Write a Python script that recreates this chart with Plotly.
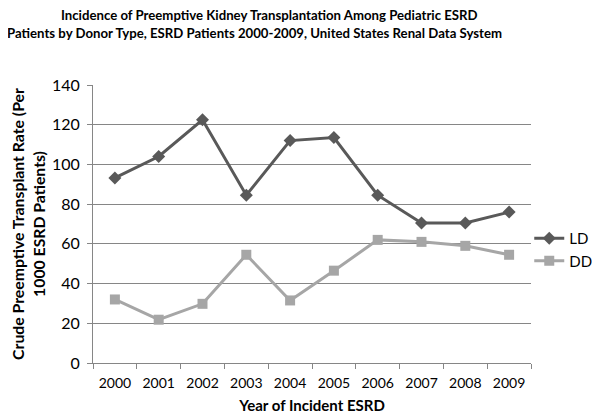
import plotly.graph_objects as go

years = ["2000", "2001", "2002", "2003", "2004", "2005", "2006", "2007", "2008", "2009"]
ld_values = [93.2, 104.0, 122.5, 84.5, 112.0, 113.5, 84.5, 70.5, 70.5, 76.0]
dd_values = [32.0, 21.8, 29.8, 54.5, 31.5, 46.5, 62.0, 61.0, 59.0, 54.5]
y_ticks = [0, 20, 40, 60, 80, 100, 120, 140]

FONT = "Lato, 'Open Sans', sans-serif"

fig = go.Figure()
fig.add_trace(go.Scatter(
    x=years, y=ld_values, name="LD", mode="lines+markers",
    line=dict(color="#595959", width=3),
    marker=dict(symbol="diamond", size=10, color="#595959"),
))
fig.add_trace(go.Scatter(
    x=years, y=dd_values, name="DD", mode="lines+markers",
    line=dict(color="#a6a6a6", width=3),
    marker=dict(symbol="square", size=10, color="#a6a6a6"),
))

# page body has an 8px default margin, so the figure is drawn 8px smaller
fig.update_layout(
    width=592, height=411,
    margin=dict(l=85, r=69, t=77, b=56, autoexpand=False),
    paper_bgcolor="white", plot_bgcolor="white",
    font=dict(family=FONT, color="#000000", size=14),
    showlegend=True,
    legend=dict(x=0.996, y=1 - (249.5 - 85) / 278, xanchor="left", yanchor="middle",
                font=dict(size=15), bgcolor="rgba(0,0,0,0)",
                itemwidth=30, tracegroupgap=3),
    xaxis=dict(
        type="category", tickson="boundaries", showgrid=False, automargin=False,
        showline=True, linecolor="#868686", linewidth=1,
        ticks="outside", ticklen=5, tickcolor="#868686", tickangle=0,
        ticklabelstandoff=7,
        tickfont=dict(size=14), range=[-0.5, 9.5],
        title=dict(text="<b>Year of Incident ESRD</b>", font=dict(size=15), standoff=10),
    ),
    yaxis=dict(
        range=[0, 140], tickvals=y_ticks, showgrid=True, gridcolor="#868686", gridwidth=1,
        showline=True, linecolor="#868686", linewidth=1, automargin=False,
        ticks="outside", ticklen=5, tickcolor="#868686",
        ticklabelstandoff=4,
        tickfont=dict(size=16), zeroline=False,
        title=dict(text="<b>Crude Preemptive Transplant Rate (Per<br>1000 ESRD Patients)</b>",
                   font=dict(size=15.8), standoff=3),
    ),
    annotations=[
        dict(text="<b>Incidence of Preemptive Kidney Transplantation Among Pediatric ESRD</b>",
             xref="paper", yref="paper", x=(269 - 93) / 438, y=1 + (85 - 15) / 278,
             xanchor="center", yanchor="middle", showarrow=False, font=dict(size=13.2)),
        dict(text="<b>Patients by Donor Type, ESRD Patients 2000-2009, United States Renal Data System</b>",
             xref="paper", yref="paper", x=(254 - 93) / 438, y=1 + (85 - 33) / 278,
             xanchor="center", yanchor="middle", showarrow=False, font=dict(size=13.2)),
    ],
)

fig.write_html("out.html")
